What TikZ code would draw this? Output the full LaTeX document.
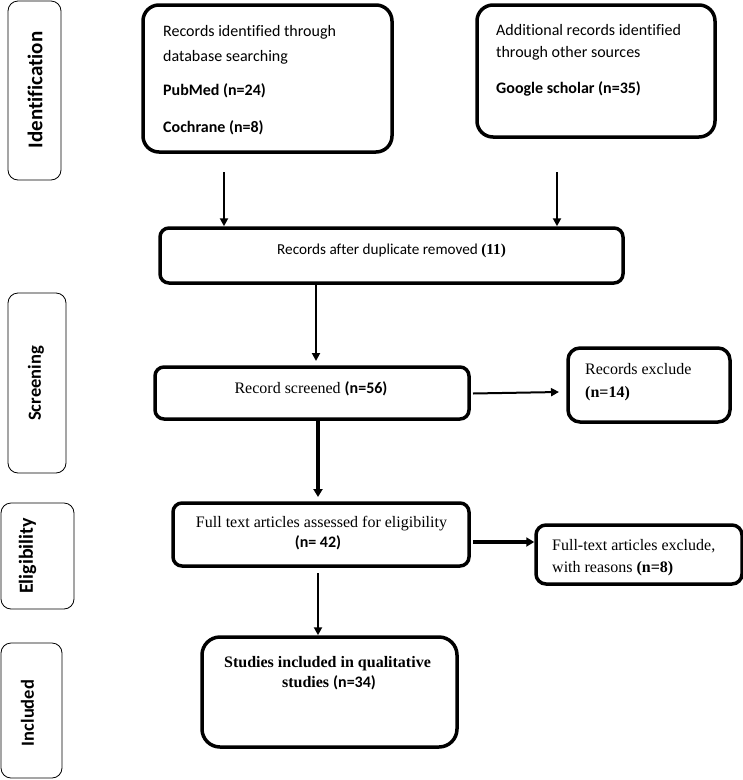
\documentclass[tikz,border=0pt]{standalone}
\usepackage{fontspec}
\setmainfont{Liberation Serif}
\newfontfamily\cali[Ligatures=NoCommon]{Carlito}
\usetikzlibrary{arrows.meta}
\begin{document}
\begin{tikzpicture}[x=1pt,y=-1pt,
  box/.style={draw, line width=3.5pt, rounded corners=#1, inner sep=0pt},
  box/.default=12pt,
  side/.style={draw, line width=0.8pt, rounded corners=10pt, inner sep=0pt},
  sidetxt/.style={rotate=90, font=\cali\bfseries\fontsize{#1}{22}\selectfont, inner sep=0pt},
  ct/.style={inner sep=0pt, font=\cali\fontsize{16}{18}\selectfont},
  st/.style={inner sep=0pt, font=\fontsize{16}{18}\selectfont},
  arr/.style={-{Triangle[length=8pt,width=8pt]}, line width=2pt},
  tarr/.style={-{Triangle[length=8pt,width=9pt]}, line width=3.5pt}
]
\useasboundingbox (0,0) rectangle (743,780);

% side labels
\node[side, minimum width=53pt, minimum height=179pt] (s1) at (34.5,90.5) {};
\node[sidetxt=21] (s1t) at (35,90) {Identification};
\node[side, minimum width=58pt, minimum height=180pt] (s2) at (37,383) {};
\node[sidetxt=18.5] (s2t) at (36,383.5) {Screening};
\node[side, minimum width=73pt, minimum height=106pt] (s3) at (37.5,556) {};
\node[sidetxt=20] (s3t) at (27.5,556) {Eligibility};
\node[side, minimum width=61pt, minimum height=135pt] (s4) at (31.5,710.5) {};
\node[sidetxt=18.5] (s4t) at (27.5,713) {Included};

% main boxes
\node[box=16pt, minimum width=249pt, minimum height=147pt] (b1) at (267.5,78.5) {};
\node[box=16pt, minimum width=238pt, minimum height=132pt] (b2) at (596,71) {};
\node[box=9pt, minimum width=463pt, minimum height=55pt] (b3) at (391.5,255.5) {};
\node[box=9pt, minimum width=314pt, minimum height=52pt] (b4) at (312,393) {};
\node[box=12pt, minimum width=162pt, minimum height=74pt] (b5) at (649,385) {};
\node[box=9pt, minimum width=296pt, minimum height=63pt] (b6) at (321,534.5) {};
\node[box=18pt, minimum width=255pt, minimum height=110pt] (b7) at (329.5,692) {};
\node[box=10pt, minimum width=206pt, minimum height=59pt] (b8) at (639,554.5) {};

% texts
\node[ct, anchor=base west] (b1a) at (163,36.5) {Records identified through};
\node[ct, anchor=base west] (b1b) at (163,61) {database searching};
\node[ct, anchor=base west] (b1c) at (163,95) {\bfseries PubMed (n=24)};
\node[ct, anchor=base west] (b1d) at (163,132.5) {\bfseries Cochrane (n=8)};

\node[ct, anchor=base west] (b2a) at (496,35) {Additional records identified};
\node[ct, anchor=base west] (b2b) at (496,57) {through other sources};
\node[ct, anchor=base west] (b2c) at (496,93) {\bfseries Google scholar (n=35)};

\node[ct, anchor=base, font=\cali\fontsize{15.2}{18}\selectfont] (b3t) at (391.5,254) {Records after duplicate removed {\rmfamily\bfseries (11)}};
\node[st, anchor=base] (b4t) at (311,393) {Record screened {\cali\bfseries (n=56)}};
\node[st, anchor=base west] (b5a) at (585,374) {Records exclude};
\node[st, anchor=base west] (b5b) at (585,397) {\bfseries (n=14)};
\node[st, anchor=base] (b6a) at (321.5,527) {Full text articles assessed for eligibility};
\node[st, anchor=base] (b6b) at (318,547) {\cali\bfseries (n= 42)};
\node[st, anchor=base] (b7a) at (327.5,667) {\bfseries Studies included in qualitative};
\node[st, anchor=base] (b7b) at (329,687) {\bfseries studies {\cali(n=34)}};
\node[st, anchor=base west] (b8a) at (552,550) {Full-text articles exclude,};
\node[st, anchor=base west] (b8b) at (552,572) {with reasons {\bfseries (n=8)}};

% arrows
\coordinate (a1) at (224,172);
\coordinate (a2) at (557,172);
\draw[arr] (a1) -- (a1 |- b3.north);
\draw[arr] (a2) -- (a2 |- b3.north);
\coordinate (a3) at (316,283);
\coordinate (a3e) at (316,361);
\draw[arr] (a3) -- (a3e);
\coordinate (a4) at (318,419);
\coordinate (a4e) at (318,497);
\draw[tarr] (a4) -- (a4e);
\coordinate (a5) at (318,573);
\draw[arr] (a5) -- (a5 |- b7.north);
\coordinate (a6) at (473,393.5);
\coordinate (a6e) at (559,392);
\draw[arr] (a6) -- (a6e);
\coordinate (a7) at (473,542);
\draw[tarr] (a7) -- (a7 -| b8.west);
\end{tikzpicture}
\end{document}
